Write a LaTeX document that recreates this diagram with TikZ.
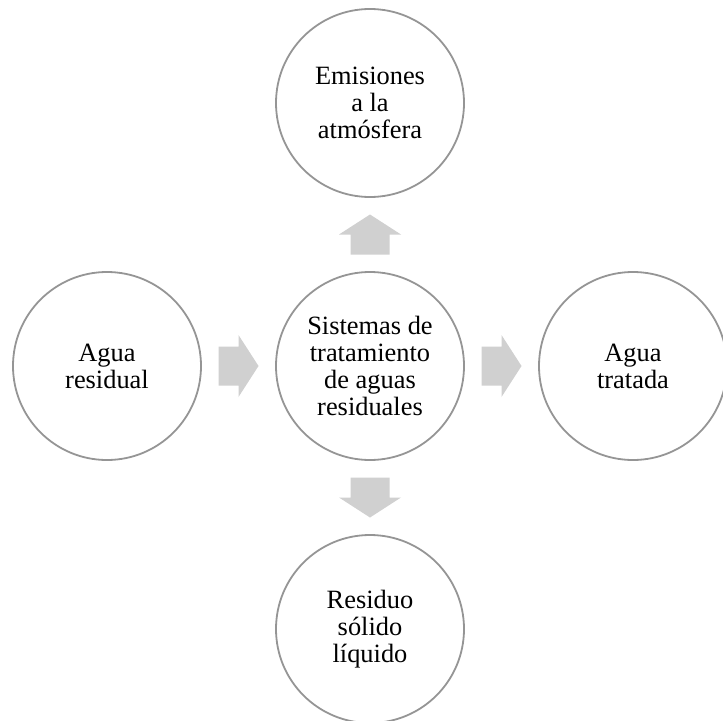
\documentclass[tikz,border=0pt]{standalone}
\usepackage{fontspec}
\setmainfont{Liberation Serif}
\usetikzlibrary{calc}
\definecolor{ringgray}{HTML}{959595}
\definecolor{arrowgray}{HTML}{D0D0D0}
\tikzset{
  ring/.style={circle, draw=ringgray, line width=1.8bp, minimum size=188bp, inner sep=0pt, align=center, font=\fontsize{26.5}{27}\selectfont},
  blockarrow/.style={fill=arrowgray, draw=none}
}
\newcommand\mkblockarrow[2]{%
  \fill[blockarrow, shift={(#1)}, rotate=#2] (-20,-19.5) -- (0,-19.5) -- (0,-31) -- (20,0) -- (0,31) -- (0,19.5) -- (-20,19.5) -- cycle;}
\begin{document}
\begin{tikzpicture}[x=1bp,y=-1bp]
\useasboundingbox (0,0) rectangle (723,721);
\node[ring] (center) at (370,366) {Sistemas de\\tratamiento\\de aguas\\residuales};
\node[ring] (top) at (370,103) {Emisiones\\a la\\atmósfera};
\node[ring] (left) at (107,366) {Agua\\residual};
\node[ring] (right) at (633,366) {Agua\\tratada};
\node[ring] (bottom) at (370,629) {Residuo\\sólido\\líquido};
\coordinate (mL) at ($(left)!0.5!(center)$);
\coordinate (mR) at ($(center)!0.5!(right)$);
\coordinate (mT) at ($(center)!0.5!(top)$);
\coordinate (mB) at ($(center)!0.5!(bottom)$);
\mkblockarrow{mL}{0}
\mkblockarrow{mR}{0}
\mkblockarrow{mT}{90}
\mkblockarrow{mB}{-90}
\end{tikzpicture}
\end{document}
